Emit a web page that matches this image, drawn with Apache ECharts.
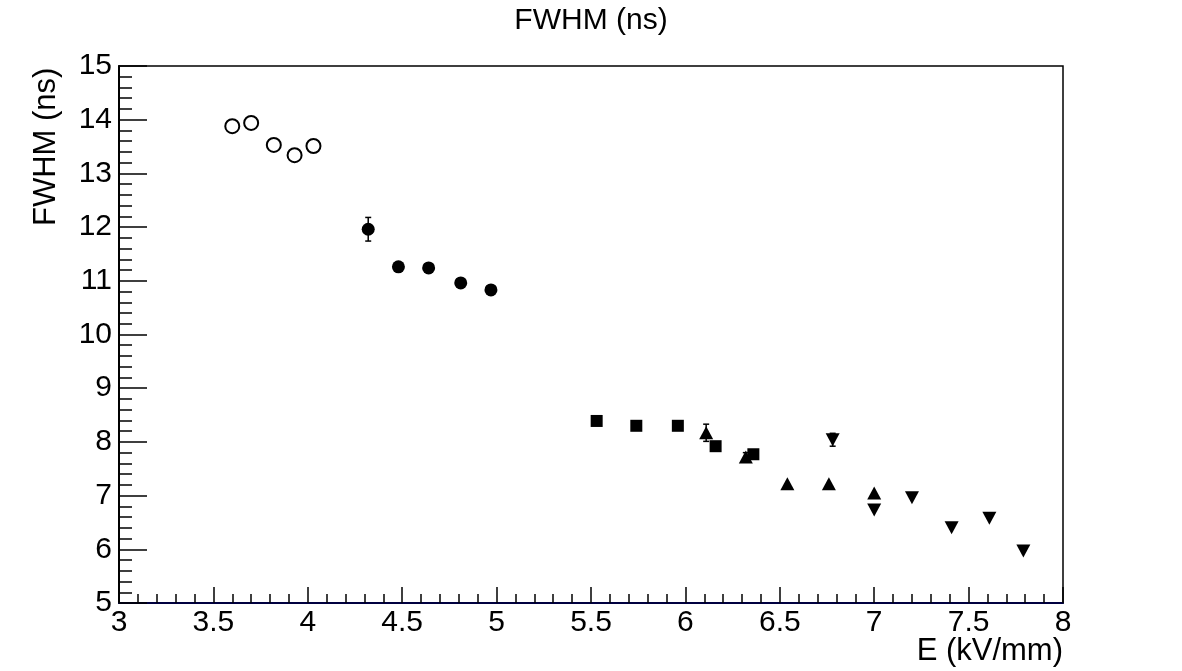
<!DOCTYPE html>
<html>
<head>
<meta charset="utf-8">
<script src="https://cdn.jsdelivr.net/npm/echarts@6/dist/echarts.min.js"></script>
<style>
  html, body { margin: 0; padding: 0; background: #fff; }
  #chart { width: 1182px; height: 671px; }
</style>
</head>
<body>
<div id="chart"></div>
<script>
// open circles
var openX = [3.60, 3.70, 3.82, 3.93, 4.03];
var openY = [13.88, 13.94, 13.53, 13.34, 13.51];
var openErr = [0, 0, 0, 0, 0];
// filled circles
var circX = [4.32, 4.48, 4.64, 4.81, 4.97];
var circY = [11.96, 11.26, 11.24, 10.96, 10.83];
var circErr = [0.22, 0, 0, 0, 0];
// squares
var sqX = [5.53, 5.74, 5.96, 6.16, 6.36];
var sqY = [8.39, 8.30, 8.30, 7.92, 7.77];
var sqErr = [0, 0, 0, 0, 0];
// up triangles
var upX = [6.11, 6.32, 6.54, 6.76, 7.00];
var upY = [8.17, 7.72, 7.22, 7.22, 7.05];
var upErr = [0.16, 0.08, 0, 0, 0];
// down triangles
var dnX = [6.78, 7.00, 7.20, 7.41, 7.61, 7.79];
var dnY = [8.04, 6.73, 6.96, 6.40, 6.58, 5.97];
var dnErr = [0.12, 0, 0, 0, 0, 0];

var FONT = 'Liberation Sans';

function pts(xs, ys) {
    return xs.map(function (x, i) { return [x, ys[i]]; });
}
function errPts(xs, ys, es) {
    return xs.map(function (x, i) { return [x, ys[i] - es[i], ys[i] + es[i]]; });
}

function errBars(xs, ys, es) {
    return {
        type: 'custom',
        data: errPts(xs, ys, es),
        z: 1,
        renderItem: function (params, api) {
            if (api.value(2) - api.value(1) <= 0) return null;
            var lo = api.coord([api.value(0), api.value(1)]);
            var hi = api.coord([api.value(0), api.value(2)]);
            var w = 3;
            var st = { stroke: '#000', lineWidth: 1.5 };
            return {
                type: 'group',
                children: [
                    { type: 'line', shape: { x1: lo[0], y1: lo[1], x2: hi[0], y2: hi[1] }, style: st },
                    { type: 'line', shape: { x1: lo[0] - w, y1: lo[1], x2: lo[0] + w, y2: lo[1] }, style: st },
                    { type: 'line', shape: { x1: hi[0] - w, y1: hi[1], x2: hi[0] + w, y2: hi[1] }, style: st }
                ]
            };
        }
    };
}

var myChart = echarts.init(document.getElementById('chart'));
option = {
    backgroundColor: '#fff',
    animation: false,
    textStyle: { fontFamily: FONT },
    grid: {
        left: 119, right: 119, top: 66, bottom: 68,
        show: true, borderColor: '#000', borderWidth: 1.5
    },
    graphic: [
        {
            type: 'text', left: 'center', top: 6,
            style: { text: 'FWHM (ns)', font: '30px "Liberation Sans"', fill: '#000' }
        },
        {
            type: 'text', right: 119, top: 636,
            style: { text: 'E (kV/mm)', font: '31px "Liberation Sans"', fill: '#000' }
        },
        {
            type: 'text', x: 31, y: 226, rotation: Math.PI / 2,
            style: { text: 'FWHM (ns)', font: '31px "Liberation Sans"', fill: '#000', textVerticalAlign: 'top' }
        }
    ],
    xAxis: {
        type: 'value',
        min: 3, max: 8, interval: 0.5,
        axisLine: { show: true, lineStyle: { color: '#000040', width: 2 } },
        axisTick: { inside: true, length: 16, lineStyle: { color: '#000', width: 1.5 } },
        minorTick: { show: true, splitNumber: 5, length: 9, lineStyle: { color: '#000', width: 1.5 } },
        axisLabel: { color: '#000', fontSize: 30, fontFamily: FONT, margin: 5 },
        splitLine: { show: false }
    },
    yAxis: {
        type: 'value',
        min: 5, max: 15, interval: 1,
        axisLine: { show: true, lineStyle: { color: '#000', width: 2 } },
        axisTick: { inside: true, length: 28, lineStyle: { color: '#000', width: 1.5 } },
        minorTick: { show: true, splitNumber: 5, length: 13, lineStyle: { color: '#000', width: 1.5 } },
        axisLabel: { color: '#000', fontSize: 30, fontFamily: FONT, margin: 7 },
        splitLine: { show: false }
    },
    series: [
        errBars(openX, openY, openErr),
        errBars(circX, circY, circErr),
        errBars(sqX, sqY, sqErr),
        errBars(upX, upY, upErr),
        errBars(dnX, dnY, dnErr),
        {
            type: 'scatter', data: pts(openX, openY), z: 3,
            symbol: 'circle', symbolSize: 14,
            itemStyle: { color: '#fff', borderColor: '#000', borderWidth: 2, opacity: 1 }
        },
        {
            type: 'scatter', data: pts(circX, circY), z: 3,
            symbol: 'circle', symbolSize: 13,
            itemStyle: { color: '#000', opacity: 1 }
        },
        {
            type: 'scatter', data: pts(sqX, sqY), z: 3,
            symbol: 'rect', symbolSize: 12,
            itemStyle: { color: '#000', opacity: 1 }
        },
        {
            type: 'scatter', data: pts(upX, upY), z: 3,
            symbol: 'triangle', symbolSize: [14, 13],
            itemStyle: { color: '#000', opacity: 1 }
        },
        {
            type: 'scatter', data: pts(dnX, dnY), z: 3,
            symbol: 'triangle', symbolRotate: 180, symbolSize: [14, 13],
            itemStyle: { color: '#000', opacity: 1 }
        }
    ]
};
myChart.setOption(option);
</script>
</body>
</html>
